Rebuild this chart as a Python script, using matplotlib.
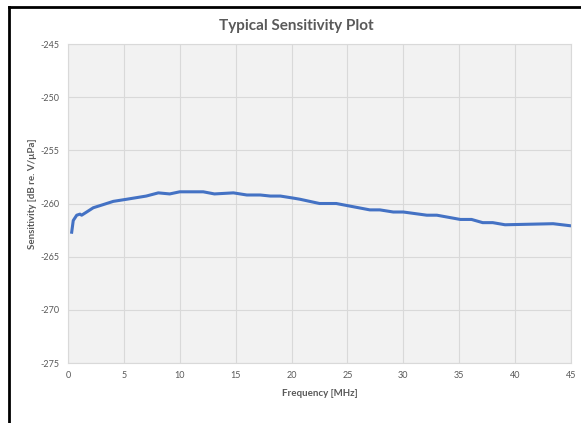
import matplotlib
matplotlib.use('Agg')
import matplotlib.pyplot as plt
from matplotlib.lines import Line2D

plt.rcParams['font.family'] = ['Lato', 'DejaVu Sans']
plt.rcParams['axes.unicode_minus'] = False

# frequency [MHz] and sensitivity [dB re. V/uPa]
freq = [0.33, 0.47, 0.78, 1.07, 1.22, 1.67, 2.26, 3.16, 4.05, 5.25, 7.0, 8.08,
        9.1, 10.0, 12.1, 13.1, 14.8, 16.0, 17.2, 18.1, 19.0, 20.2, 20.75, 22.5,
        24.0, 27.0, 27.9, 29.1, 30.0, 32.1, 33.0, 35.1, 36.1, 37.1, 38.0, 39.1,
        43.4, 45.0]
sens = [-262.7, -261.6, -261.1, -261.0, -261.1, -260.8, -260.4, -260.1, -259.8,
        -259.6, -259.3, -259.0, -259.1, -258.9, -258.9, -259.1, -259.0, -259.2,
        -259.2, -259.3, -259.3, -259.5, -259.6, -260.0, -260.0, -260.6, -260.6,
        -260.8, -260.8, -261.1, -261.1, -261.5, -261.5, -261.8, -261.8, -262.0,
        -261.9, -262.1]

xticks = list(range(0, 46, 5))
yticks = list(range(-275, -244, 5))

fig = plt.figure(figsize=(5.81, 4.23), dpi=100)
ax = fig.add_axes([68 / 581, 1 - 363 / 423, (571 - 68) / 581, (363 - 44) / 423])

ax.set_facecolor('#f2f2f2')
ax.plot(freq, sens, color='#4472c4', lw=2.2, solid_joinstyle='round')

ax.set_xlim(0, 45)
ax.set_ylim(-275, -245)
ax.set_xticks(xticks)
ax.set_yticks(yticks)
ax.grid(True, color='#d9d9d9', lw=0.8)
ax.set_axisbelow(True)
for s in ax.spines.values():
    s.set_color('#d9d9d9')
    s.set_linewidth(0.8)
ax.tick_params(length=0, labelsize=6.5, labelcolor='#595959', pad=6)

ax.set_xlabel('Frequency [MHz]', fontsize=7, fontweight='bold', color='#595959', labelpad=6)
fig.text(32.5 / 581, 1 - 194 / 423, 'Sensitivity [dB re. V/µPa]', rotation=90,
         ha='center', va='center', fontsize=7, fontweight='bold', color='#595959')
fig.text(0.51, 1 - 26 / 423, 'Typical Sensitivity Plot', ha='center', va='center',
         fontsize=11, fontweight='bold', color='#595959')

# black frame edges on the left and top of the screenshot
fig.add_artist(Line2D([9 / 581, 9 / 581], [0, 1 - 7 / 423], transform=fig.transFigure, color='black', lw=2))
fig.add_artist(Line2D([9 / 581, 1], [1 - 7 / 423, 1 - 7 / 423], transform=fig.transFigure, color='black', lw=2))

fig.savefig('out.png', dpi=100)
